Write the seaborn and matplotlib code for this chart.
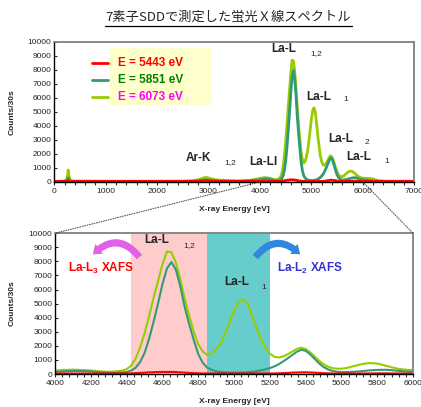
import numpy as np
import pandas as pd
import matplotlib
matplotlib.use("Agg")
import matplotlib.pyplot as plt
import seaborn as sns
from matplotlib.patches import FancyArrowPatch, Rectangle, ConnectionPatch
from matplotlib.lines import Line2D

# energy grid [eV]
energy = ([0, 100, 200, 250, 270, 290, 320, 400, 500, 1000, 1500, 2000, 2500,
           2700, 2800, 2900, 2950, 3000, 3100, 3200, 3300, 3400, 3600, 3800, 3900]
          + list(range(4000, 6025, 25))
          + [6050, 6100, 6150, 6200, 6250, 6300, 6400, 6500, 6700, 7000])

# E = 6073 eV (yellow-green)
cnt_6073 = [40, 50, 60, 250, 850, 350, 80, 60, 60, 50, 50, 50, 60,
            90, 160, 280, 330, 280, 180, 130, 120, 90, 70, 110, 180,
            250, 270, 290, 300, 310, 300, 290, 270, 250, 220, 190, 170, 160, 170, 200, 250,
            350, 600, 1100, 1900, 2900, 4100, 5400, 6600, 7800, 8700, 8650, 7900, 6700, 5300,
            4100, 3000, 2100, 1600, 1350, 1450,
            1750, 2200, 2850, 3700, 4500, 5100, 5300, 5000, 4200, 3300, 2500, 1850, 1450, 1220,
            1180, 1250, 1400, 1600, 1780, 1870, 1780, 1550, 1250, 950, 700, 520, 420, 380, 380,
            420, 500, 580, 660, 730, 770, 770, 740, 670, 580, 500, 420, 360, 320, 290, 270,
            260, 250, 240, 210, 140, 90, 60, 50, 50, 50]

# E = 5851 eV (green)
cnt_5851 = [30, 40, 40, 80, 300, 100, 40, 40, 40, 40, 40, 40, 40,
            50, 80, 130, 150, 130, 90, 70, 60, 50, 50, 80, 120,
            150, 170, 190, 210, 220, 220, 210, 200, 180, 160, 130, 110, 90, 80, 90, 110,
            150, 250, 450, 850, 1500, 2500, 3700, 5000, 6400, 7500, 7950, 7400, 6200, 4700,
            3500, 2400, 1400, 800, 450, 300,
            200, 150, 120, 100, 100, 100, 110, 130, 160, 200, 260, 330, 420, 540,
            700, 900, 1120, 1350, 1580, 1720, 1650, 1400, 1080, 760, 500, 330, 220, 160, 140,
            140, 150, 170, 190, 220, 250, 270, 290, 300, 300, 280, 250, 220, 190, 170, 150,
            130, 110, 90, 70, 60, 50, 40, 40, 40, 40]

# E = 5443 eV (red)
cnt_5443 = [30, 40, 40, 50, 100, 50, 40, 40, 40, 40, 40, 40, 40,
            40, 50, 80, 100, 80, 50, 40, 40, 40, 40, 40, 40,
            40, 40, 40, 40, 40, 40, 40, 40, 40, 40, 40, 40, 40, 40, 40, 40,
            40, 50, 60, 80, 100, 120, 130, 140, 150, 150, 150, 140, 120, 100,
            80, 60, 50, 40, 40, 40,
            40, 40, 40, 40, 40, 40, 40, 40, 40, 40, 40, 40, 40, 40,
            50, 60, 80, 100, 110, 120, 120, 110, 100, 80, 60, 50, 40, 40, 40,
            40, 40, 40, 40, 40, 40, 40, 50, 50, 50, 40, 40, 40, 40, 40, 40,
            40, 40, 40, 40, 40, 40, 40, 40, 40, 40]

series_names = ["E = 6073 eV", "E = 5851 eV", "E = 5443 eV"]
line_colors = ["#99cc00", "#339977", "#ff0000"]

df = pd.concat([
    pd.DataFrame({"energy": energy, "counts": c, "series": n})
    for c, n in zip([cnt_6073, cnt_5851, cnt_5443], series_names)
])
palette = dict(zip(series_names, line_colors))

sns.set_theme(style="white")
plt.rcParams["font.family"] = ["Liberation Sans", "Noto Sans CJK JP", "DejaVu Sans"]
plt.rcParams["mathtext.fontset"] = "custom"
plt.rcParams["mathtext.rm"] = "Liberation Sans"
plt.rcParams["mathtext.bf"] = "Liberation Sans:bold"

fig = plt.figure(figsize=(4.21, 4.07), dpi=100)
ax1 = fig.add_axes([0.129, 0.553, 0.855, 0.344])
ax2 = fig.add_axes([0.131, 0.081, 0.850, 0.346])


def style_axes(ax, xmin, xmax, major, minor):
    ax.set_xlim(xmin, xmax)
    ax.set_ylim(0, 10000)
    ax.set_xticks(np.arange(xmin, xmax + 1, major))
    ax.set_xticks(np.arange(xmin, xmax + 1, minor), minor=True)
    ax.set_yticks(np.arange(0, 10001, 1000))
    ax.tick_params(axis="x", which="both", direction="out", length=2.5, width=0.8,
                   labelsize=6, pad=2, bottom=True)
    ax.tick_params(axis="y", which="both", direction="in", length=2.5, width=0.8,
                   labelsize=6, pad=2, left=True)
    for s in ["left", "bottom"]:
        ax.spines[s].set_color("black")
        ax.spines[s].set_linewidth(1.0)
    for s in ["top", "right"]:
        ax.spines[s].set_color("#7f7f7f")
        ax.spines[s].set_linewidth(1.3)
    ax.set_xlabel("X-ray Energy [eV]", fontsize=6, fontweight="bold", labelpad=8)
    ax.set_ylabel("Counts/30s", fontsize=6, fontweight="bold", labelpad=9)


# ---- top panel: full spectrum
sns.lineplot(data=df, x="energy", y="counts", hue="series", hue_order=series_names,
             palette=palette, linewidth=2.0, estimator=None, legend=False, ax=ax1)
style_axes(ax1, 0, 7000, 1000, 200)

# hand-made legend like the original
ax1.add_patch(Rectangle((0.155, 0.55), 0.283, 0.405, transform=ax1.transAxes,
                        facecolor="#ffffcc", edgecolor="none", zorder=1))
for i, (n, lc, tc) in enumerate(zip(["E = 5443 eV", "E = 5851 eV", "E = 6073 eV"],
                                    ["#ff0000", "#339977", "#99cc00"],
                                    ["#ff0000", "#008000", "#ff00ff"])):
    yy = 0.85 - i * 0.121
    ax1.add_line(Line2D([0.105, 0.15], [yy, yy], transform=ax1.transAxes,
                        color=lc, lw=2.0, zorder=2))
    ax1.text(0.177, yy, n, transform=ax1.transAxes, color=tc, fontsize=8.5,
             fontweight="bold", va="center", ha="left", zorder=3)

lab = dict(fontsize=8.5, fontweight="bold", ha="center", va="center")
sub = dict(fontsize=6, ha="center", va="center")
ax1.text(4457, 9500, "La-L", **lab)
ax1.text(5090, 9140, "1,2", **sub)
ax1.text(5137, 6090, "La-L", **lab)
ax1.text(5660, 5860, "1", **sub)
ax1.text(5571, 3060, "La-L", **lab)
ax1.text(6080, 2790, "2", **sub)
ax1.text(5925, 1810, "La-L", **lab)
ax1.text(6470, 1430, "1", **sub)
ax1.text(2808, 1690, "Ar-K", **lab)
ax1.text(3420, 1350, "1,2", **sub)
ax1.text(4060, 1410, "La-Ll", **lab)

# ---- bottom panel: zoom 4000-6000 eV
ax2.axvspan(4425, 4850, color="#ffcccc", lw=0, zorder=0)
ax2.axvspan(4850, 5200, color="#66cccc", lw=0, zorder=0)
sns.lineplot(data=df, x="energy", y="counts", hue="series", hue_order=series_names,
             palette=palette, linewidth=1.5, estimator=None, legend=False, ax=ax2)
style_axes(ax2, 4000, 6000, 200, 40)

ax2.text(4568, 9500, "La-L", **lab)
ax2.text(4750, 9150, "1,2", **sub)
ax2.text(5015, 6550, "La-L", **lab)
ax2.text(5168, 6150, "1", **sub)
ax2.text(4257, 7500, r"La-L$_\mathbf{3}$ XAFS", color="#ff0000", fontsize=8.5,
         fontweight="bold", ha="center", va="center")
ax2.text(5422, 7500, r"La-L$_\mathbf{2}$ XAFS", color="#3333cc", fontsize=8.5,
         fontweight="bold", ha="center", va="center")

arrow_style = "simple,head_width=9,head_length=6,tail_width=5"
ax2.add_patch(FancyArrowPatch((4480, 8150), (4200, 8350),
                              connectionstyle="arc3,rad=0.6", arrowstyle=arrow_style,
                              color="#e060e8", lw=0, zorder=4))
ax2.add_patch(FancyArrowPatch((5110, 8150), (5380, 8350),
                              connectionstyle="arc3,rad=-0.6", arrowstyle=arrow_style,
                              color="#2f88dd", lw=0, zorder=4))

# dotted zoom guides
for xa, xb in [(4000, 0), (6000, 1)]:
    con = ConnectionPatch(xyA=(xa, 0), coordsA=ax1.transData,
                          xyB=(xb, 1), coordsB=ax2.transAxes,
                          linestyle=(0, (1, 1.5)), color="#444444", lw=0.7)
    fig.add_artist(con)

# underlined title
fig.text(0.542, 0.958, "7素子SDDで測定した蛍光Ｘ線スペクトル",
         family=["Noto Sans CJK JP", "DejaVu Sans"], fontsize=9.5,
         ha="center", va="center")
fig.add_artist(Line2D([0.249, 0.836], [0.937, 0.937], transform=fig.transFigure,
                      color="black", lw=0.9))

fig.savefig("out.png", dpi=100)
